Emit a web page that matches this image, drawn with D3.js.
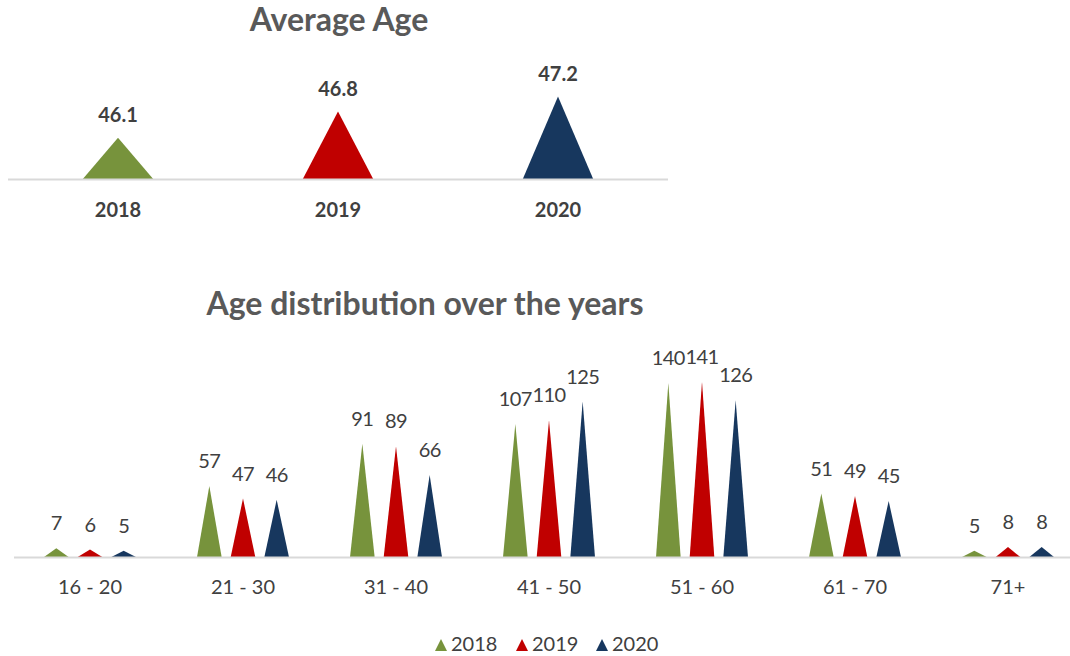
<!DOCTYPE html>
<html>
<head>
<meta charset="utf-8">
<script src="https://cdn.jsdelivr.net/npm/d3@7"></script>
<style>
  html, body { margin: 0; padding: 0; background: #fff; }
  svg { display: block; font-family: Lato, "Open Sans", sans-serif; }
</style>
</head>
<body>
<svg id="chart" width="1070" height="656"></svg>
<script>
// Average age per year
const years = ["2018", "2019", "2020"];
const averageAge = [46.1, 46.8, 47.2];

// Headcount per age band and year
const ageBands = ["16 - 20", "21 - 30", "31 - 40", "41 - 50", "51 - 60", "61 - 70", "71+"];
const counts2018 = [7, 57, 91, 107, 140, 51, 5];
const counts2019 = [6, 47, 89, 110, 141, 49, 8];
const counts2020 = [5, 46, 66, 125, 126, 45, 8];

const colors = { "2018": "#77933C", "2019": "#C00000", "2020": "#17375E" };
const textColor = "#404040";
const titleColor = "#595959";
const axisColor = "#D9D9D9";

const svg = d3.select("#chart");

function triangle(cx, halfW, yBase, yTop) {
  return `M${cx - halfW},${yBase}L${cx},${yTop}L${cx + halfW},${yBase}Z`;
}

// ---------- Average Age ----------
{
  const g = svg.append("g");
  const x = d3.scaleBand().domain(years).range([8, 668]);
  const y = d3.scaleLinear().domain([45, 48]).range([179, 66.5]);
  const halfW = x.bandwidth() * 0.16;

  g.append("text")
    .attr("x", 339).attr("y", 31)
    .attr("text-anchor", "middle")
    .attr("font-size", 32).attr("font-weight", 700)
    .attr("fill", titleColor)
    .text("Average Age");

  const data = years.map((yr, i) => ({ year: yr, value: averageAge[i] }));

  g.selectAll("path.tri").data(data).join("path")
    .attr("class", "tri")
    .attr("d", d => triangle(x(d.year) + x.bandwidth() / 2, halfW, y.range()[0], y(d.value)))
    .attr("fill", d => colors[d.year]);

  g.append("line")
    .attr("x1", 8).attr("x2", 668)
    .attr("y1", 179.5).attr("y2", 179.5)
    .attr("stroke", axisColor).attr("stroke-width", 2);

  g.selectAll("text.val").data(data).join("text")
    .attr("class", "val")
    .attr("x", d => x(d.year) + x.bandwidth() / 2)
    .attr("y", d => y(d.value) - 16)
    .attr("text-anchor", "middle")
    .attr("font-size", 20).attr("font-weight", 700)
    .attr("fill", textColor)
    .text(d => d.value.toFixed(1));

  g.selectAll("text.cat").data(years).join("text")
    .attr("class", "cat")
    .attr("x", d => x(d) + x.bandwidth() / 2)
    .attr("y", 217)
    .attr("text-anchor", "middle")
    .attr("font-size", 20).attr("font-weight", 700)
    .attr("fill", textColor)
    .text(d => d);
}

// ---------- Age distribution ----------
{
  const g = svg.append("g");
  const series = [
    { year: "2018", values: counts2018 },
    { year: "2019", values: counts2019 },
    { year: "2020", values: counts2020 }
  ];
  const baseY = 557;
  const x0 = d3.scaleBand().domain(ageBands).range([13.5, 1084.5]);
  const x1 = d3.scaleBand().domain(years).range([-50.5, 50.5]);
  const y = d3.scaleLinear().domain([0, 160]).range([baseY, baseY - 199]);
  const halfW = 12.3;

  g.append("text")
    .attr("x", 425).attr("y", 315)
    .attr("text-anchor", "middle")
    .attr("font-size", 32).attr("font-weight", 700)
    .attr("fill", titleColor)
    .text("Age distribution over the years");

  const cells = [];
  ageBands.forEach((band, i) => {
    series.forEach(s => cells.push({ band, year: s.year, value: s.values[i] }));
  });
  const cx = d => x0(d.band) + x0.bandwidth() / 2 + x1(d.year) + x1.bandwidth() / 2;

  g.selectAll("path.tri").data(cells).join("path")
    .attr("class", "tri")
    .attr("d", d => triangle(cx(d), halfW, baseY, y(d.value)))
    .attr("fill", d => colors[d.year]);

  g.append("line")
    .attr("x1", 14).attr("x2", 1070)
    .attr("y1", baseY + 0.5).attr("y2", baseY + 0.5)
    .attr("stroke", axisColor).attr("stroke-width", 2);

  g.selectAll("text.val").data(cells).join("text")
    .attr("class", "val")
    .attr("x", cx)
    .attr("y", d => y(d.value) - 18)
    .attr("text-anchor", "middle")
    .attr("font-size", 20)
    .attr("letter-spacing", -0.6)
    .attr("fill", textColor)
    .text(d => d.value);

  g.selectAll("text.cat").data(ageBands).join("text")
    .attr("class", "cat")
    .attr("x", d => x0(d) + x0.bandwidth() / 2)
    .attr("y", 594)
    .attr("text-anchor", "middle")
    .attr("font-size", 20)
    .attr("fill", textColor)
    .text(d => d);

  // Legend
  const legend = g.append("g");
  const lx = d3.scaleOrdinal().domain(years).range([435, 516, 596]);
  const items = legend.selectAll("g.item").data(years).join("g")
    .attr("class", "item")
    .attr("transform", d => `translate(${lx(d)},651)`);
  items.append("path")
    .attr("d", triangle(6, 6, 0, -12))
    .attr("fill", d => colors[d]);
  items.append("text")
    .attr("x", 16).attr("y", 0)
    .attr("font-size", 20)
    .attr("fill", textColor)
    .text(d => d);
}
</script>
</body>
</html>
